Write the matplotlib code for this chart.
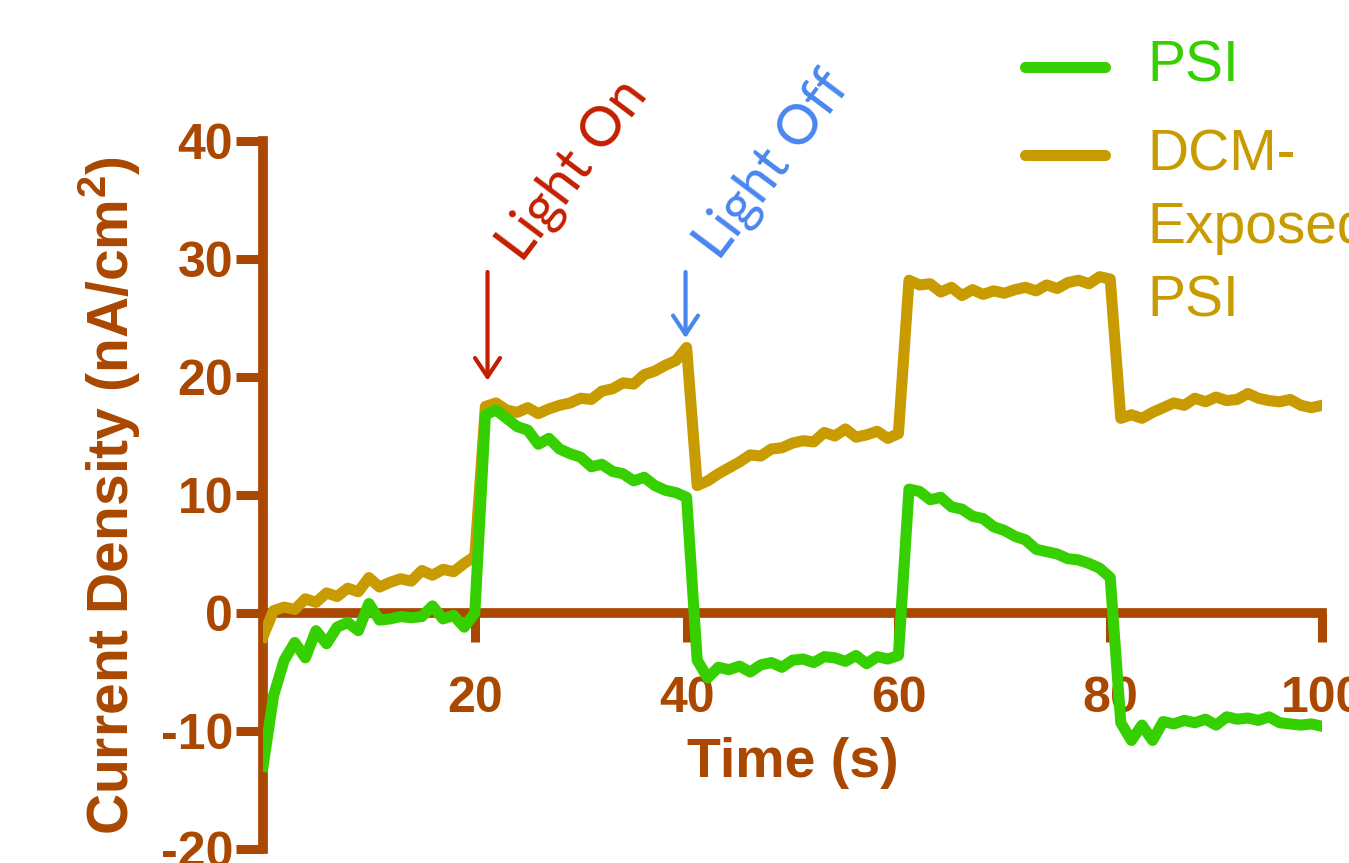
import numpy as np
import matplotlib
matplotlib.use("Agg")
import matplotlib.pyplot as plt
from matplotlib.lines import Line2D

plt.rcParams['font.family'] = ['Liberation Sans', 'DejaVu Sans']
plt.rcParams['mathtext.fontset'] = 'custom'
plt.rcParams['mathtext.bf'] = 'Liberation Sans:bold'
plt.rcParams['mathtext.rm'] = 'Liberation Sans'
plt.rcParams['axes.unicode_minus'] = False

# time in seconds (1 s sampling)
time_s = list(range(0, 101))

# PSI photocurrent (nA/cm^2)
psi = [-13, -7, -4, -2.5, -3.8, -1.5, -2.6, -1.2, -0.8, -1.5,
       0.8, -0.6, -0.5, -0.3, -0.4, -0.3, 0.6, -0.5, -0.2, -1.2,
       0.0, 16.8, 17.2, 16.5, 15.8, 15.5, 14.3, 14.8, 13.9, 13.5,
       13.2, 12.4, 12.6, 12.0, 11.8, 11.2, 11.5, 10.8, 10.4, 10.2,
       9.8, -4.0, -5.5, -4.6, -4.8, -4.5, -5.0, -4.4, -4.2, -4.6,
       -4.0, -3.9, -4.2, -3.7, -3.8, -4.1, -3.6, -4.3, -3.7, -3.9,
       -3.6, 10.5, 10.3, 9.6, 9.8, 9.0, 8.8, 8.2, 8.0, 7.3,
       7.0, 6.5, 6.2, 5.4, 5.2, 5.0, 4.6, 4.5, 4.2, 3.8,
       3.0, -9.3, -10.8, -9.5, -10.8, -9.2, -9.4, -9.1, -9.3, -9.0,
       -9.5, -8.8, -9.0, -8.9, -9.1, -8.8, -9.3, -9.4, -9.5, -9.4,
       -9.6]

# DCM-exposed PSI photocurrent (nA/cm^2)
dcm = [-2.0, 0.2, 0.5, 0.3, 1.2, 0.9, 1.7, 1.4, 2.1, 1.8,
       3.0, 2.2, 2.6, 2.9, 2.7, 3.6, 3.2, 3.7, 3.5, 4.2,
       4.8, 17.5, 17.8, 17.2, 17.0, 17.4, 16.9, 17.3, 17.6, 17.8,
       18.2, 18.1, 18.8, 19.0, 19.5, 19.4, 20.2, 20.5, 21.0, 21.4,
       22.5, 10.8, 11.2, 11.8, 12.3, 12.8, 13.4, 13.3, 13.9, 14.0,
       14.4, 14.6, 14.5, 15.3, 15.0, 15.6, 14.9, 15.1, 15.4, 14.8,
       15.2, 28.2, 27.8, 27.9, 27.2, 27.6, 26.9, 27.4, 27.0, 27.3,
       27.1, 27.4, 27.6, 27.3, 27.8, 27.5, 28.0, 28.2, 27.9, 28.5,
       28.3, 16.5, 16.8, 16.5, 17.0, 17.4, 17.8, 17.6, 18.2, 17.9,
       18.3, 18.0, 18.1, 18.6, 18.2, 18.0, 17.9, 18.1, 17.6, 17.4,
       17.6]

xticks = [20, 40, 60, 80, 100]
yticks = [-20, -10, 0, 10, 20, 30, 40]

BROWN = '#AA4700'
GREEN = '#36D000'
GOLD = '#C89B00'
RED = '#C41E00'
BLUE = '#4A86F0'

fig = plt.figure(figsize=(13.49, 8.63), dpi=100)
ax = fig.add_axes([0.19496, 0.01622, 0.78503, 0.82039])

ax.plot(time_s, dcm, color=GOLD, lw=8, zorder=3)
ax.plot(time_s, psi, color=GREEN, lw=8, zorder=4)

ax.set_xlim(0, 100)
ax.set_ylim(-20, 40)

# axis styling, x axis sits at y = 0
ax.spines['top'].set_visible(False)
ax.spines['right'].set_visible(False)
ax.spines['bottom'].set_position(('data', 0))
for s in ['left', 'bottom']:
    ax.spines[s].set_color(BROWN)
    ax.spines[s].set_linewidth(7)

ax.set_xticks(xticks)
ax.set_yticks(yticks)
ax.tick_params(axis='x', direction='out', length=21, width=6.5, color=BROWN,
               pad=24, labelsize=36, labelcolor=BROWN)
ax.tick_params(axis='y', direction='out', length=19.5, width=6.5, color=BROWN,
               pad=2, labelsize=36, labelcolor=BROWN)
for lab in ax.get_xticklabels() + ax.get_yticklabels():
    lab.set_fontweight('bold')

ax.set_xlabel('Time (s)', fontsize=40, fontweight='bold', color=BROWN)
ax.xaxis.set_label_coords(0.5, 0.158)
ax.set_ylabel(r'Current Density (nA/cm$^\mathbf{2}$)', fontsize=41,
              fontweight='bold', color=BROWN)
ax.yaxis.set_label_coords(-0.113, 0.5)

# light on / off markers
arrow_kw = dict(arrowstyle='->,head_length=0.45,head_width=0.3', lw=3,
                mutation_scale=30, shrinkA=0, shrinkB=0)
ax.annotate('', xy=(21.2, 19.7), xytext=(21.2, 28.9),
            arrowprops=dict(color=RED, **arrow_kw))
ax.annotate('', xy=(39.9, 23.3), xytext=(39.9, 28.9),
            arrowprops=dict(color=BLUE, **arrow_kw))
ax.text(24.4, 29.6, 'Light On', color=RED, fontsize=40, family='Lato',
        rotation=53, rotation_mode='anchor', ha='left', va='baseline')
ax.text(43.0, 29.76, 'Light Off', color=BLUE, fontsize=40, family='Lato',
        rotation=53, rotation_mode='anchor', ha='left', va='baseline')

# legend drawn by hand (handle aligned with first text line)
fig.add_artist(Line2D([0.7598, 0.8191], [0.9224, 0.9224], color=GREEN, lw=8,
                      solid_capstyle='round', transform=fig.transFigure))
fig.add_artist(Line2D([0.7598, 0.8191], [0.8204, 0.8204], color=GOLD, lw=8,
                      solid_capstyle='round', transform=fig.transFigure))
fig.text(0.8503, 0.9224, 'PSI', color=GREEN, fontsize=41, ha='left', va='center')
fig.text(0.8503, 0.851, 'DCM-\nExposed\nPSI', color=GOLD, fontsize=41,
         ha='left', va='top', linespacing=1.45)

fig.savefig('out.png', dpi=100)
